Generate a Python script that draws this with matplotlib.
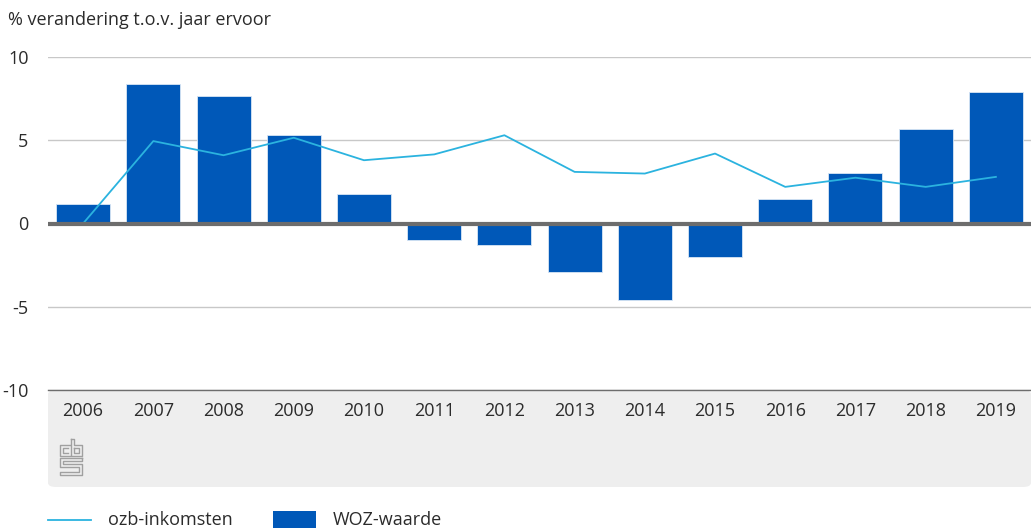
import numpy as np
import matplotlib
matplotlib.use('Agg')
import matplotlib.pyplot as plt
from matplotlib.patches import FancyBboxPatch, Rectangle
from matplotlib.lines import Line2D

jaren = ['2006', '2007', '2008', '2009', '2010', '2011', '2012',
         '2013', '2014', '2015', '2016', '2017', '2018', '2019']
woz = [1.2, 8.35, 7.65, 5.3, 1.75, -1.0, -1.3, -2.9, -4.6, -2.0, 1.5, 3.05, 5.7, 7.9]
ozb = [0.0, 4.95, 4.1, 5.15, 3.8, 4.15, 5.3, 3.1, 3.0, 4.2, 2.2, 2.75, 2.2, 2.8]

plt.rcParams['font.family'] = ['Open Sans', 'DejaVu Sans']
tekst = '#2b2b2b'
fs = 13
W, H = 1031, 531

fig = plt.figure(figsize=(W / 100, H / 100), dpi=100)

# grijze band onder de as
band = FancyBboxPatch((48 / W, (H - 487) / H), (W - 48) / W, 97 / H,
                      boxstyle='round,pad=0,rounding_size=0.008',
                      transform=fig.transFigure, facecolor='#eeeeee',
                      edgecolor='none', zorder=-1)
fig.patches.append(band)

ax = fig.add_axes([48 / W, (H - 390) / H, (W - 48) / W, (390 - 57) / H])
ax.set_facecolor('none')
x = np.arange(len(jaren))
ax.bar(x, woz, width=0.77, color='#0058b8', edgecolor='#d8e6f5', linewidth=0.6,
       zorder=2, label='WOZ-waarde')
ax.plot(x, ozb, color='#2bb3df', linewidth=1.3, zorder=3, label='ozb-inkomsten')
ax.axhline(0, color='#6d6d6d', linewidth=3, zorder=4)

ax.set_xlim(-0.5, len(jaren) - 0.5)
ax.set_ylim(-10, 10)
ax.set_yticks([-10, -5, 0, 5, 10])
ax.set_yticklabels(['-10', '-5', '0', '5', '10'])
ax.yaxis.grid(True, color='#c8c8c8', linewidth=1)
ax.set_axisbelow(True)
for s in ['top', 'right', 'left']:
    ax.spines[s].set_visible(False)
ax.spines['bottom'].set_color('#6d6d6d')
ax.spines['bottom'].set_linewidth(1)
ax.tick_params(axis='y', length=0, pad=14, labelsize=fs, labelcolor=tekst)
ax.tick_params(axis='x', length=0, pad=9, labelsize=fs, labelcolor=tekst)
ax.set_xticks(x)
ax.set_xticklabels(jaren)

fig.text(8 / W, 1 - 20 / H, '% verandering t.o.v. jaar ervoor', fontsize=fs,
         color=tekst, va='center', ha='left')

# cbs logo (eenvoudige lijnen)
def pix(px, py):
    return px / W, 1 - py / H

logo = [
    [(70, 445), (60, 445), (60, 456), (70, 456)],
    [(68, 448), (63, 448), (63, 453), (68, 453)],
    [(71, 439), (71, 456), (82, 456), (82, 445), (74, 445), (74, 439), (71, 439)],
    [(74, 448), (79, 448), (79, 453), (74, 453), (74, 448)],
    [(82, 458), (60, 458), (60, 467), (79, 467), (79, 472), (60, 472), (60, 475),
     (82, 475), (82, 464), (63, 464), (63, 461), (82, 461), (82, 458)],
]
for seg in logo:
    xs, ys = zip(*[pix(a, b) for a, b in seg])
    fig.lines.append(Line2D(xs, ys, transform=fig.transFigure, color='#a0a0a0',
                            linewidth=1.0))

# legenda
lx, ly = pix(48, 520)
fig.lines.append(Line2D([lx, pix(91, 0)[0]], [ly, ly], transform=fig.transFigure,
                        color='#2bb3df', linewidth=1.3))
fig.text(pix(108, 0)[0], ly, 'ozb-inkomsten', fontsize=fs, color=tekst, va='center')
rx, ry = pix(273, 528)
fig.patches.append(Rectangle((rx, ry), 43 / W, 17 / H, transform=fig.transFigure,
                             facecolor='#0058b8', edgecolor='none'))
fig.text(pix(333, 0)[0], ly, 'WOZ-waarde', fontsize=fs, color=tekst, va='center')

fig.savefig('out.png', dpi=100)
